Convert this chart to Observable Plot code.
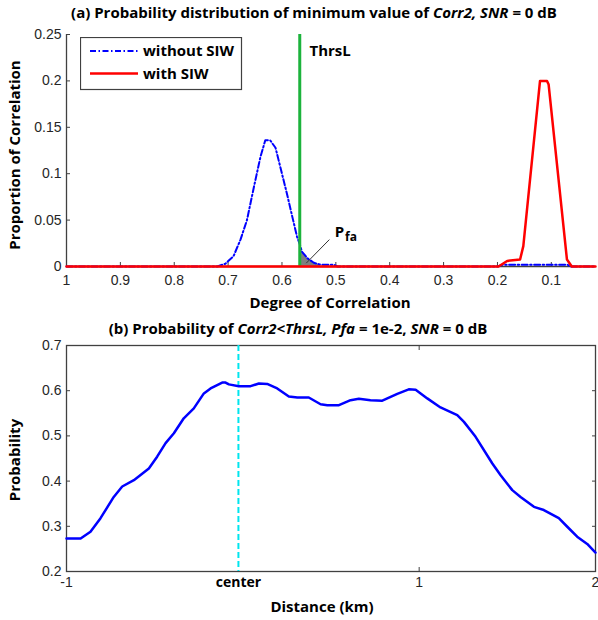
<!DOCTYPE html>
<html><head><meta charset="utf-8">
<script src="https://cdn.jsdelivr.net/npm/d3@7"></script>
<script src="https://cdn.jsdelivr.net/npm/@observablehq/plot@0.6"></script>
<style>
body{margin:0;background:#fff;}
#wrap{position:relative;width:598px;height:620px;overflow:hidden;font-family:"Open Sans",sans-serif;}
.abs{position:absolute;white-space:nowrap;line-height:1;}
.b{font-weight:700;font-size:15px;color:#000;}
.cx{transform:translate(-50%,-50%);}
.rot{transform:translate(-50%,-50%) rotate(-90deg);}
</style></head><body>
<div id="wrap">
  <div id="pa" class="abs" style="left:0;top:0"></div>
  <div id="pb" class="abs" style="left:0;top:315px"></div>
  <div class="abs b cx" style="left:314px;top:12px">(a) Probability distribution of minimum value of <i>Corr2, SNR</i> = 0 dB</div>
  <div class="abs b cx" style="left:298px;top:328px">(b) Probability of <i>Corr2&lt;ThrsL, Pfa</i> = 1e-2, <i>SNR</i> = 0 dB</div>
  <div class="abs b rot" style="left:14px;top:155px">Proportion of Correlation</div>
  <div class="abs b rot" style="left:14px;top:460px">Probability</div>
  <div class="abs b cx" style="left:330px;top:302px">Degree of Correlation</div>
  <div class="abs b cx" style="left:322px;top:606px">Distance (km)</div>
  <svg id="legend" class="abs" style="left:80px;top:37px" width="164" height="54"></svg>
</div>
<script>
// ---- panel (a) data ----
const blueX = [1.0, 0.72, 0.705, 0.69, 0.677, 0.665, 0.652, 0.64, 0.631, 0.622, 0.612, 0.603, 0.591, 0.581, 0.572, 0.567, 0.563, 0.553, 0.541, 0.529, 0.504, 0.497, 0.2, 0.19, 0.07, 0.065, 0.018];
const blueY = [0, 0, 0.003, 0.011, 0.029, 0.05, 0.086, 0.118, 0.136, 0.136, 0.128, 0.107, 0.079, 0.054, 0.032, 0.024, 0.016, 0.009, 0.004, 0.002, 0.002, 0, 0, 0.002, 0.002, 0, 0];
const redX = [1.0, 0.198, 0.182, 0.158, 0.152, 0.121, 0.108, 0.105, 0.071, 0.062, 0.018];
const redY = [0, 0, 0.006, 0.0075, 0.022, 0.2, 0.2, 0.196, 0.0075, 0, 0];
const thrsL = 0.567;
const pfaLow = 0.525;
const xTicksA = [1, 0.9, 0.8, 0.7, 0.6, 0.5, 0.4, 0.3, 0.2, 0.1];
const yTicksA = [0, 0.05, 0.1, 0.15, 0.2, 0.25];
const seriesNames = ["without SIW", "with SIW"];
// ---- panel (b) data ----
const distX = [-1.0, -0.92, -0.864, -0.807, -0.732, -0.684, -0.618, -0.533, -0.486, -0.438, -0.391, -0.335, -0.278, -0.221, -0.183, -0.117, -0.098, -0.079, -0.023, 0.044, 0.091, 0.138, 0.195, 0.261, 0.309, 0.374, 0.441, 0.479, 0.545, 0.611, 0.658, 0.724, 0.791, 0.876, 0.941, 0.98, 1.046, 1.121, 1.216, 1.254, 1.32, 1.415, 1.462, 1.528, 1.575, 1.651, 1.707, 1.792, 1.84, 1.896, 1.953, 2.0];
const probY = [0.273, 0.273, 0.288, 0.318, 0.365, 0.388, 0.402, 0.428, 0.454, 0.484, 0.506, 0.539, 0.561, 0.594, 0.605, 0.618, 0.618, 0.614, 0.61, 0.61, 0.616, 0.615, 0.605, 0.587, 0.585, 0.585, 0.57, 0.568, 0.568, 0.579, 0.582, 0.579, 0.578, 0.593, 0.603, 0.602, 0.583, 0.563, 0.546, 0.531, 0.498, 0.439, 0.413, 0.38, 0.365, 0.343, 0.336, 0.318, 0.299, 0.277, 0.261, 0.242];
const centerX = -0.025;
const xTicksB = [-1, 1, 2];
const yTicksB = [0.2, 0.3, 0.4, 0.5, 0.6, 0.7];

const blue = blueX.map((x, i) => ({x, y: blueY[i]}));
const red = redX.map((x, i) => ({x, y: redY[i]}));
const pfa = blue.filter(d => d.x <= thrsL && d.x >= pfaLow);
const prob = distX.map((x, i) => ({x, y: probY[i]}));

const AX = "#404040";
const tickFont = "'Liberation Sans', Arial, sans-serif";
const boldFont = "'Open Sans', sans-serif";
const DASHDOT = "6,2.5,1.5,2.5";

const A = Plot.plot({
  width: 598, height: 315, marginTop: 34, marginBottom: 49, marginLeft: 66, marginRight: 3,
  style: {fontFamily: tickFont, fontSize: "14px", color: "#262626", background: "transparent", overflow: "visible"},
  x: {domain: [1, 0.018], label: null},
  y: {domain: [0, 0.25], label: null},
  marks: [
    Plot.ruleX([1], {stroke: AX, strokeWidth: 1.3}),
    Plot.ruleY([0], {stroke: AX, strokeWidth: 1.3}),
    Plot.axisY({ticks: yTicksA, tickFormat: d => String(d), tickSize: -4, tickPadding: 9, stroke: AX, fill: "#262626"}),
    Plot.axisX({ticks: xTicksA, tickFormat: d => String(d), tickSize: -4, tickPadding: 13, stroke: AX, fill: "#262626"}),
    Plot.areaY(pfa, {x: "x", y: "y", fill: "#7f7f7f"}),
    Plot.line(blue, {x: "x", y: "y", stroke: "#0000ff", strokeWidth: 2, strokeDasharray: DASHDOT}),
    Plot.ruleX([thrsL], {stroke: "#1cb33c", strokeWidth: 3}),
    Plot.line(red, {x: "x", y: "y", stroke: "#ff0000", strokeWidth: 2.5}),
    Plot.link([{x1: 0.512, y1: 0.029, x2: 0.555, y2: 0.0036}], {x1: "x1", y1: "y1", x2: "x2", y2: "y2", stroke: "#333", strokeWidth: 1}),
    Plot.text(["P"], {x: 0.502, y: 0.037, textAnchor: "start", fontFamily: boldFont, fontWeight: 700, fontSize: 15, fill: "#000"}),
    Plot.text(["fa"], {x: 0.483, y: 0.0315, textAnchor: "start", fontFamily: boldFont, fontWeight: 700, fontSize: 12, fill: "#000"}),
    Plot.text(["ThrsL"], {x: thrsL - 0.018, y: 0.232, textAnchor: "start", fontFamily: boldFont, fontWeight: 700, fontSize: 15, fill: "#000"})
  ]
});
document.getElementById("pa").appendChild(A);

const B = Plot.plot({
  width: 598, height: 305, marginTop: 30, marginBottom: 49, marginLeft: 66, marginRight: 3,
  style: {fontFamily: tickFont, fontSize: "14px", color: "#262626", background: "transparent", overflow: "visible"},
  x: {domain: [-1, 2], label: null},
  y: {domain: [0.2, 0.7], label: null},
  marks: [
    Plot.frame({stroke: AX, strokeWidth: 1.3}),
    Plot.axisY({ticks: yTicksB, tickFormat: d => String(d), tickSize: -4, tickPadding: 9, stroke: AX, fill: "#262626"}),
    Plot.axisY({anchor: "right", ticks: yTicksB, tickFormat: () => "", tickSize: -4, stroke: AX}),
    Plot.axisX({ticks: xTicksB, tickFormat: d => String(d), tickSize: -4, tickPadding: 10, stroke: AX, fill: "#262626"}),
    Plot.axisX({ticks: [centerX], tickFormat: () => "center", tickSize: 0, tickPadding: 6, fontFamily: boldFont, fontWeight: 700, fill: "#000"}),
    Plot.axisX({anchor: "top", ticks: xTicksB, tickFormat: () => "", tickSize: -4, stroke: AX}),
    Plot.ruleX([centerX], {stroke: "#00e5ee", strokeWidth: 2, strokeDasharray: "6,3"}),
    Plot.line(prob, {x: "x", y: "y", stroke: "#0000ff", strokeWidth: 2.5})
  ]
});
document.getElementById("pb").appendChild(B);

// legend
const lg = d3.select("#legend");
lg.append("rect").attr("x", 0.5).attr("y", 0.5).attr("width", 161).attr("height", 52).attr("fill", "white").attr("stroke", AX).attr("stroke-width", 1.2);
const legStyles = [{stroke: "#0000ff", w: 2, dash: DASHDOT}, {stroke: "#ff0000", w: 2.5, dash: null}];
seriesNames.forEach((name, i) => {
  const yy = 14 + i * 22.5;
  lg.append("line").attr("x1", 10).attr("x2", 58).attr("y1", yy).attr("y2", yy)
    .attr("stroke", legStyles[i].stroke).attr("stroke-width", legStyles[i].w).attr("stroke-dasharray", legStyles[i].dash);
  lg.append("text").attr("x", 63).attr("y", yy).attr("dy", "0.35em").text(name)
    .attr("font-family", boldFont).attr("font-weight", 700).attr("font-size", 15).attr("fill", "#000");
});
</script>
</body></html>
